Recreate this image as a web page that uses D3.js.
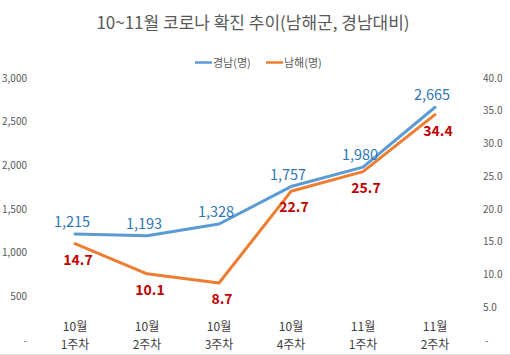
<!DOCTYPE html>
<html>
<head>
<meta charset="utf-8">
<script src="https://cdn.jsdelivr.net/npm/d3@7"></script>
<style>
  html, body { margin: 0; padding: 0; background: #fff; }
  svg { display: block; }
  text { font-family: "Noto Sans CJK KR", "Noto Sans", sans-serif; }
</style>
</head>
<body>
<svg id="chart" width="510" height="355"></svg>
<script>
const title = "10~11월 코로나 확진 추이(남해군, 경남대비)";
const categories = [["10월", "1주차"], ["10월", "2주차"], ["10월", "3주차"], ["10월", "4주차"], ["11월", "1주차"], ["11월", "2주차"]];
const gyeongnam = [1215, 1193, 1328, 1757, 1980, 2665];
const namhae = [14.7, 10.1, 8.7, 22.7, 25.7, 34.4];
const seriesNames = ["경남(명)", "남해(명)"];
const leftTicks = [0, 500, 1000, 1500, 2000, 2500, 3000];
const rightTicks = [0, 5, 10, 15, 20, 25, 30, 35, 40];

const svg = d3.select("#chart");
const blue = "#5b9bd5", orange = "#ed7d31";
const axisGray = "#595959";

const idx = categories.map((d, i) => i);
const x = d3.scalePoint().domain(idx).range([39, 471]).padding(0.5);
const yL = d3.scaleLinear().domain([0, 3000]).range([340, 78]);
const yR = d3.scaleLinear().domain([0, 40]).range([340, 78]);

// title
svg.append("text").attr("x", 253).attr("y", 29).attr("text-anchor", "middle")
  .attr("font-size", 17).attr("fill", axisGray).text(title);

// legend
const leg = svg.append("g");
[[195, 213, blue, seriesNames[0]], [266, 284, orange, seriesNames[1]]].forEach(([x0, tx, c, t]) => {
  leg.append("line").attr("x1", x0).attr("x2", x0 + 17).attr("y1", 62.5).attr("y2", 62.5)
    .attr("stroke", c).attr("stroke-width", 2.5);
  leg.append("text").attr("x", tx).attr("y", 66.5).attr("font-size", 11).attr("fill", axisGray).text(t);
});

// left axis
const gL = svg.append("g").attr("transform", "translate(27,0)")
  .call(d3.axisLeft(yL).tickValues(leftTicks).tickSize(0).tickPadding(0)
    .tickFormat(d => d === 0 ? "-" : d3.format(",")(d)));
gL.select(".domain").remove();
gL.selectAll("text").attr("font-size", 10).attr("fill", axisGray)
  .attr("font-family", "\"Noto Sans CJK KR\", sans-serif");

// right axis
const gR = svg.append("g").attr("transform", "translate(483,0)")
  .call(d3.axisRight(yR).tickValues(rightTicks).tickSize(0).tickPadding(0)
    .tickFormat(d => d === 0 ? "-" : d3.format(".1f")(d)));
gR.select(".domain").remove();
gR.selectAll("text").attr("font-size", 10).attr("fill", axisGray)
  .attr("font-family", "\"Noto Sans CJK KR\", sans-serif");
gR.selectAll("text").filter(d => d === 0).attr("dx", 2);

// x labels
const xl = svg.append("g");
categories.forEach((c, i) => {
  const t = xl.append("text").attr("x", x(i)).attr("text-anchor", "middle")
    .attr("font-size", 12).attr("fill", "#404040");
  t.append("tspan").attr("x", x(i)).attr("y", 331).text(c[0]);
  t.append("tspan").attr("x", x(i)).attr("y", 349).text(c[1]);
});

// lines
const lineL = d3.line().x((d, i) => x(i)).y(d => yL(d));
const lineR = d3.line().x((d, i) => x(i)).y(d => yR(d));
svg.append("path").datum(gyeongnam).attr("d", lineL).attr("fill", "none")
  .attr("stroke", blue).attr("stroke-width", 3).attr("stroke-linejoin", "round").attr("stroke-linecap", "round");
svg.append("path").datum(namhae).attr("d", lineR).attr("fill", "none")
  .attr("stroke", orange).attr("stroke-width", 3).attr("stroke-linejoin", "round").attr("stroke-linecap", "round");

// data labels
svg.append("g").selectAll("text").data(gyeongnam).join("text")
  .attr("x", (d, i) => x(i) - 3).attr("y", d => yL(d) - 7)
  .attr("text-anchor", "middle").attr("font-size", 14.5).attr("fill", "#2e75b6")
  .text(d => d3.format(",")(d));
svg.append("g").selectAll("text").data(namhae).join("text")
  .attr("x", (d, i) => x(i) + 3).attr("y", d => yR(d) + 21)
  .attr("text-anchor", "middle").attr("font-size", 14).attr("font-weight", "bold").attr("fill", "#c00000")
  .text(d => d3.format(".1f")(d));

// bottom border
svg.append("line").attr("x1", 0).attr("x2", 510).attr("y1", 354.5).attr("y2", 354.5)
  .attr("stroke", "#e0e0e0");
</script>
</body>
</html>
